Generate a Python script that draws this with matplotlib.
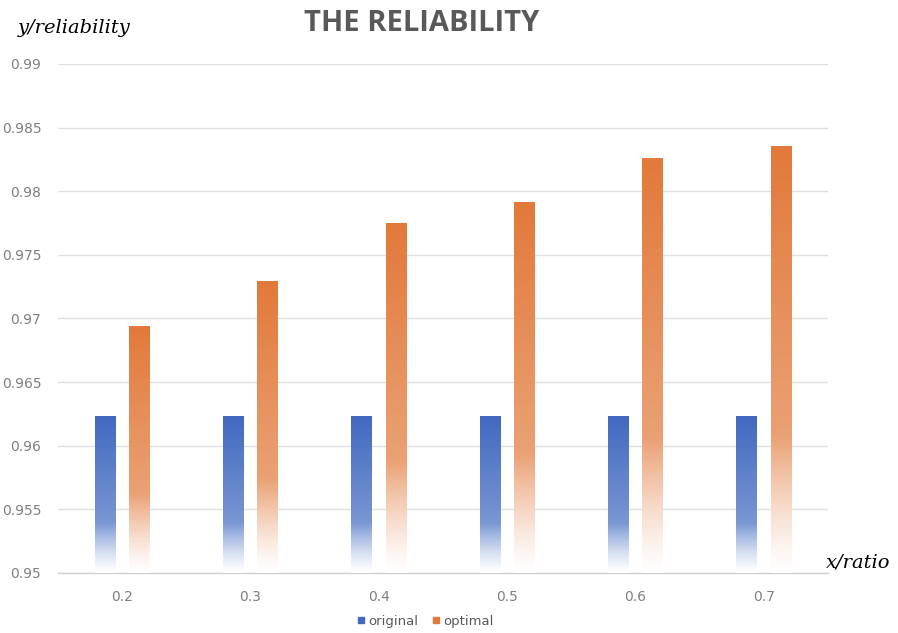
import numpy as np
import matplotlib
matplotlib.use("Agg")
import matplotlib.pyplot as plt
from matplotlib.lines import Line2D
from matplotlib.colors import to_rgb

categories = ["0.2", "0.3", "0.4", "0.5", "0.6", "0.7"]
original = [0.9623, 0.9623, 0.9623, 0.9623, 0.9623, 0.9623]
optimal = [0.9694, 0.9729, 0.9775, 0.9791, 0.9826, 0.9835]
yticks = [0.95, 0.955, 0.96, 0.965, 0.97, 0.975, 0.98, 0.985, 0.99]
ytick_labels = ["0.95", "0.955", "0.96", "0.965", "0.97", "0.975", "0.98", "0.985", "0.99"]

BLUE = "#4169C0"
ORANGE = "#E2793A"
GRAY = "#595959"
TICKGRAY = "#7F7F7F"

fig = plt.figure(figsize=(8.98, 6.33), dpi=100)
ax = fig.add_axes([0.0646, 0.0948, 0.8574, 0.8041])
ymin, ymax = 0.95, 0.99

def gradient_bar(ax, xc, top, width, color, z=3):
    c = np.array(to_rgb(color))
    n = 512
    t = np.linspace(0, 1, n)  # 0 top -> 1 bottom
    s = np.where(t < 0.68, 1.0 - 0.30 * (t / 0.68), 0.70 * (1 - (t - 0.68) / 0.32) ** 1.3)
    s = np.clip(s, 0, 1)
    img = (1 - s)[:, None] * np.ones(3)[None, :] + s[:, None] * c[None, :]
    img = img[:, None, :]
    ax.imshow(img, extent=[xc - width / 2, xc + width / 2, ymin, top],
              aspect="auto", origin="upper", zorder=z, interpolation="bilinear")

x = np.arange(len(categories))
w = 0.16
off = 0.133
for i in range(len(categories)):
    gradient_bar(ax, x[i] - off, original[i], w, BLUE)
    gradient_bar(ax, x[i] + off, optimal[i], w, ORANGE)

ax.set_xlim(-0.5, len(categories) - 0.5)
ax.set_ylim(ymin, ymax)
ax.set_yticks(yticks)
ax.set_yticklabels(ytick_labels)
ax.set_xticks(x)
ax.set_xticklabels(categories)
ax.tick_params(axis="both", length=0, colors=TICKGRAY, labelsize=10)
ax.tick_params(axis="y", pad=12)
ax.tick_params(axis="x", pad=12)
ax.grid(axis="y", color="#E0E0E0", linewidth=1.0, zorder=0)
ax.set_axisbelow(True)
for sp in ["top", "right", "left"]:
    ax.spines[sp].set_visible(False)
ax.spines["bottom"].set_color("#D0D0D0")
ax.spines["bottom"].set_linewidth(1.0)

fig.text(0.47, 0.963, "THE RELIABILITY", ha="center", va="center",
         fontsize=21, fontweight="bold", color=GRAY, family="Open Sans")
fig.text(0.02, 0.955, "y/reliability", ha="left", va="center",
         fontsize=14, style="italic", color="#000000", family="DejaVu Serif")
fig.text(0.92, 0.112, "x/ratio", ha="left", va="center",
         fontsize=14, style="italic", color="#000000", family="DejaVu Serif")

handles = [Line2D([], [], marker="s", linestyle="none", markersize=4.5, color=BLUE),
           Line2D([], [], marker="s", linestyle="none", markersize=4.5, color=ORANGE)]
fig.legend(handles, ["original", "optimal"], loc="center", bbox_to_anchor=(0.473, 0.018),
           ncol=2, frameon=False, fontsize=9.5, handletextpad=0.1, columnspacing=1.0,
           labelcolor=GRAY, handlelength=0.8)

fig.savefig("out.png", dpi=100)
